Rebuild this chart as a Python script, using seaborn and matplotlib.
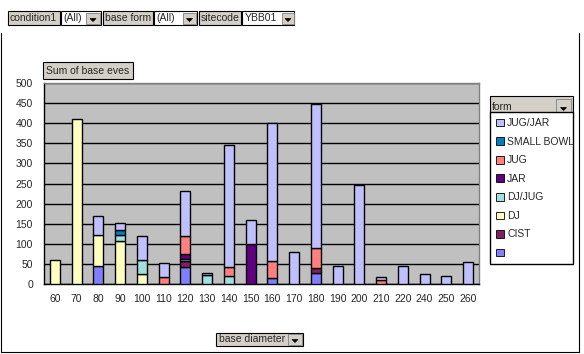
import matplotlib
matplotlib.use('Agg')
import matplotlib.pyplot as plt
import seaborn as sns
from matplotlib.patches import Rectangle, Polygon, Patch
from matplotlib.lines import Line2D

# base diameter categories
diameters = ['60', '70', '80', '90', '100', '110', '120', '130', '140', '150',
             '160', '170', '180', '190', '200', '210', '220', '240', '250', '260']

# sum of base eves per form (stacking order, bottom to top)
blank      = [0, 0, 45, 0, 0, 0, 42, 0, 0, 0, 15, 0, 27, 0, 0, 0, 0, 0, 0, 0]
cist       = [0, 0, 0, 0, 0, 0, 15, 0, 0, 0, 0, 0, 13, 0, 0, 0, 0, 0, 0, 0]
dj         = [60, 410, 77, 107, 25, 0, 0, 0, 0, 0, 0, 0, 0, 0, 0, 0, 0, 0, 0, 0]
dj_jug     = [0, 0, 0, 15, 35, 0, 5, 22, 20, 0, 0, 0, 0, 0, 0, 0, 0, 0, 0, 0]
jar        = [0, 0, 0, 0, 0, 0, 13, 0, 0, 100, 0, 0, 0, 0, 0, 0, 0, 0, 0, 0]
jug        = [0, 0, 0, 0, 0, 18, 45, 0, 22, 0, 42, 0, 50, 0, 0, 10, 0, 0, 0, 0]
small_bowl = [0, 0, 0, 12, 0, 0, 0, 0, 0, 0, 0, 0, 0, 0, 0, 0, 0, 0, 0, 0]
jug_jar    = [0, 0, 47, 18, 60, 33, 112, 5, 303, 60, 343, 80, 358, 45, 247, 7, 45, 25, 20, 55]

series_names = ['', 'CIST', 'DJ', 'DJ/JUG', 'JAR', 'JUG', 'SMALL BOWL', 'JUG/JAR']
series_vals = [blank, cist, dj, dj_jug, jar, jug, small_bowl, jug_jar]
series_colors = ['#8080FF', '#802060', '#FFFFC0', '#A0E0E0',
                 '#600080', '#FF8080', '#0080C0', '#C0C0FF']

sns.set_style('white')
plt.rcParams['font.family'] = ['Liberation Sans', 'DejaVu Sans']
FS = 7.5

W, H = 584, 354
fig = plt.figure(figsize=(W / 100, H / 100), dpi=100)


def fx(x):
    return x / W


def fy(y):
    return 1 - y / H


def box(x0, y0, x1, y1, fc, ec='black', lw=0.8):
    fig.patches.append(Rectangle((fx(x0), fy(y1)), fx(x1) - fx(x0), fy(y0) - fy(y1),
                                 transform=fig.transFigure, fc=fc, ec=ec, lw=lw, zorder=5))


def line(xs, ys, color='black', lw=0.8):
    fig.lines.append(Line2D([fx(x) for x in xs], [fy(y) for y in ys],
                            transform=fig.transFigure, color=color, lw=lw, zorder=6))


def label(x, y, s, ha='left'):
    fig.text(fx(x), fy(y), s, fontsize=FS, ha=ha, va='center', zorder=7)


def dropdown(x0, y0, x1, y1):
    box(x0, y0, x1, y1, '#D4D0C8', ec='#808080', lw=0.6)
    cx, cy = (x0 + x1) / 2, (y0 + y1) / 2 + 1
    fig.patches.append(Polygon([(fx(cx - 3), fy(cy - 1)), (fx(cx + 3), fy(cy - 1)), (fx(cx), fy(cy + 2))],
                               closed=True, transform=fig.transFigure, fc='black', ec='black', lw=0.5, zorder=8))


BTN = '#D4D0C8'

# outer chart frame
line([1, 1, 579, 579], [33, 352, 352, 33])

# page field controls at the top
box(8, 11, 60, 25, BTN)
label(10, 18, 'condition1')
box(61, 11, 101, 25, 'white')
label(63, 18, '(All)')
dropdown(86, 13, 100, 24)
box(103, 11, 153, 25, BTN)
label(105, 18, 'base form')
box(154, 11, 197, 25, 'white')
label(156, 18, '(All)')
dropdown(183, 13, 196, 24)
box(199, 11, 241, 25, BTN)
label(201, 18, 'sitecode')
box(242, 11, 294, 25, 'white')
label(245, 18, 'YBB01')
dropdown(282, 13, 294, 24)

# data field button
box(43, 62, 133, 79, BTN)
label(46, 70.5, 'Sum of base eves')

# category field button
box(216, 333, 303, 346, BTN)
label(219, 339.5, 'base diameter')
dropdown(288, 334, 302, 345)

# plot area
ax = fig.add_axes([fx(44), fy(284), fx(479) - fx(44), fy(83) - fy(284)])
ax.set_facecolor('#C0C0C0')

bottom = [0] * len(diameters)
for name, vals, col in zip(series_names, series_vals, series_colors):
    sns.barplot(x=diameters, y=vals, order=diameters, bottom=bottom, color=col,
                edgecolor='black', linewidth=1, width=0.45, saturation=1,
                errorbar=None, ax=ax, zorder=3)
    bottom = [b + v for b, v in zip(bottom, vals)]

# hide empty segments so they don't thicken the outlines
for p in ax.patches:
    if p.get_height() == 0:
        p.set_visible(False)

ax.set_ylim(0, 500)
ax.set_xlim(-0.5, len(diameters) - 0.5)
ax.set_yticks(range(0, 501, 50))
ax.yaxis.grid(True, color='black', lw=1, zorder=0)
ax.set_axisbelow(True)
ax.set_xlabel('')
ax.set_ylabel('')

ax.set_xticks(range(len(diameters)))
ax.set_xticklabels(diameters)
ax.set_xticks([i - 0.5 for i in range(len(diameters) + 1)], minor=True)
ax.tick_params(axis='x', which='major', length=0, pad=7, labelsize=FS)
ax.tick_params(axis='x', which='minor', length=4, width=0.8, color='black', direction='out')
ax.tick_params(axis='y', length=4, width=0.8, color='black', direction='out', pad=4, labelsize=FS)

for side in ['top', 'right']:
    ax.spines[side].set_color('#808080')
    ax.spines[side].set_linewidth(1)
for side in ['left', 'bottom']:
    ax.spines[side].set_color('black')
    ax.spines[side].set_linewidth(1)

# legend (top-to-bottom reverse of the stacking order)
handles = [Patch(fc=c, ec='black', lw=0.6) for c in series_colors][::-1]
labels = series_names[::-1]
leg = fig.legend(handles, labels, loc='upper left',
                 bbox_to_anchor=(fx(490), fy(112), fx(573) - fx(490), 0.0),
                 mode='expand', fontsize=FS, frameon=True, fancybox=False,
                 edgecolor='black', framealpha=1, borderaxespad=0,
                 handlelength=0.75, handleheight=0.75, handletextpad=0.3,
                 labelspacing=0.82, borderpad=0.6)
leg.get_frame().set_linewidth(1)

box(490, 96, 573, 118, BTN)
label(492, 107, 'form')
dropdown(556, 99, 571, 116)

fig.savefig('out.png', dpi=100)
